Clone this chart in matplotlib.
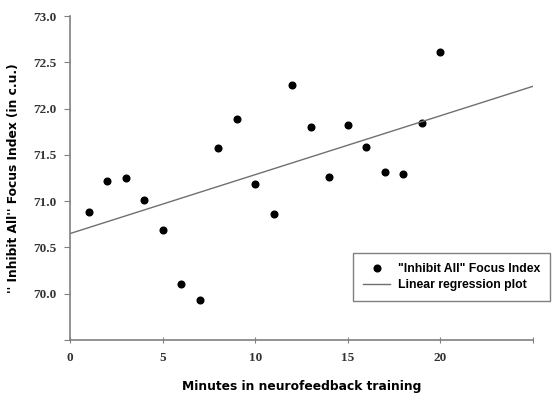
import numpy as np
import matplotlib.pyplot as plt
from matplotlib.ticker import FixedLocator

# minutes of training and the focus index read at each minute
minutes = [1, 2, 3, 4, 5, 6, 7, 8, 9, 10, 11, 12, 13, 14, 15, 16, 17, 18, 19, 20]
focus_index = [70.88, 71.22, 71.25, 71.01, 70.69, 70.10, 69.93, 71.57, 71.89, 71.18,
               70.86, 72.25, 71.80, 71.26, 71.82, 71.59, 71.32, 71.29, 71.84, 72.61]
x_ticks = [0, 5, 10, 15, 20, 25]
x_ticklabels = ['0', '5', '10', '15', '20', '']
y_ticks = [69.5, 70.0, 70.5, 71.0, 71.5, 72.0, 72.5, 73.0]
y_ticklabels = ['', '70.0', '70.5', '71.0', '71.5', '72.0', '72.5', '73.0']

# least squares fit, drawn across the whole x range
slope, icept = np.polyfit(minutes, focus_index, 1)
xfit = np.array([0, 25])
yfit = icept + slope * xfit

fig = plt.figure(figsize=(5.54, 3.96), dpi=100)
ax = fig.add_axes([70/554, 56/396, 463/554, 324/396])

ax.plot(minutes, focus_index, 'o', color='black', markersize=4.8,
        label='"Inhibit All" Focus Index')
ax.plot(xfit, yfit, color='#707070', linewidth=1.0, label='Linear regression plot')

ax.set_xlim(0, 25)
ax.set_ylim(69.5, 73.0)
ax.xaxis.set_major_locator(FixedLocator(x_ticks))
ax.yaxis.set_major_locator(FixedLocator(y_ticks))
ax.set_xticklabels(x_ticklabels)
ax.set_yticklabels(y_ticklabels)

for s in ['top', 'right']:
  ax.spines[s].set_visible(False)
for s in ['left', 'bottom']:
  ax.spines[s].set_color('#808080')
  ax.spines[s].set_linewidth(1.2)
ax.tick_params(axis='x', direction='inout', length=5, color='#808080', pad=6)
ax.tick_params(axis='y', direction='out', length=4, color='#808080', pad=6)
for lab in ax.get_xticklabels() + ax.get_yticklabels():
  lab.set_fontfamily('Liberation Serif')
  lab.set_fontweight('bold')
  lab.set_fontsize(9.5)
  lab.set_color('#333333')

ax.set_xlabel('Minutes in neurofeedback training', fontsize=8.8, fontweight='bold',
              family='DejaVu Sans', labelpad=12)
ax.set_ylabel("'' Inhibit All'' Focus Index (in c.u.)", fontsize=8.8, fontweight='bold',
              family='DejaVu Sans', labelpad=9)

leg = ax.legend(loc='upper left', bbox_to_anchor=(353/554, 1-253/396),
                bbox_transform=fig.transFigure, borderaxespad=0, fancybox=False,
                framealpha=1, edgecolor='#808080', handlelength=2.2,
                prop={'family': 'Liberation Sans', 'weight': 'bold', 'size': 8.8},
                borderpad=0.85, labelspacing=0.3, handletextpad=0.6)
leg.get_frame().set_linewidth(1.0)

plt.savefig('out.png', dpi=100, facecolor='w')
